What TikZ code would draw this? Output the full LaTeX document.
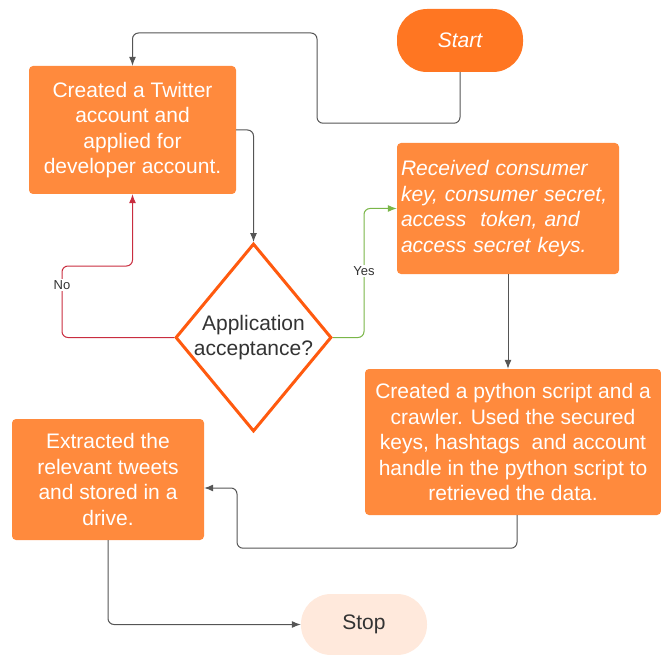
\documentclass[tikz,border=0pt]{standalone}
\usepackage{fontspec}
\setmainfont{Liberation Sans}
\usetikzlibrary{shapes.geometric,arrows.meta}

\definecolor{startorange}{HTML}{FF7622}
\definecolor{boxorange}{HTML}{FF8A3D}
\definecolor{diamondline}{HTML}{FF5A0F}
\definecolor{stoppeach}{HTML}{FFE9DC}
\definecolor{linegray}{HTML}{555555}
\definecolor{nored}{HTML}{C92D3F}
\definecolor{yesgreen}{HTML}{7AB648}
\definecolor{darktext}{HTML}{333333}

\begin{document}
\begin{tikzpicture}[x=1pt,y=-1pt,
  bigtext/.style={font=\fontsize{21}{25.5}\selectfont},
  terminal/.style={rectangle, rounded corners=30pt, inner sep=0pt, bigtext},
  box/.style={rectangle, rounded corners=4pt, fill=boxorange, text=white,
    inner sep=0pt, align=center, bigtext},
  decision/.style={diamond, aspect=0.83, draw=diamondline, line width=3pt,
    fill=white, text=darktext, inner sep=-6pt, align=center, bigtext,
    minimum width=156pt, minimum height=188pt},
  flow/.style={draw=linegray, line width=1pt, rounded corners=6pt,
    -{Latex[length=9pt,width=7pt]}},
  lbl/.style={fill=white, text=darktext, inner sep=1pt,
    font=\fontsize{13}{15}\selectfont}]
\useasboundingbox (0,0) rectangle (661,655);

\node[terminal, fill=startorange, text=white, minimum width=126pt,
  minimum height=63pt] (start) at (460,40.5) {\itshape Start};
\node[box, minimum width=207pt, minimum height=128pt] (twitter) at (132.5,130)
  {Created a Twitter\\account and\\applied for\\developer account.};
\node[decision] (decide) at (253.5,337.5) {Application\\acceptance?};
\node[box, align=left, text width=214pt, minimum width=222pt,
  minimum height=131pt] (keys) at (508,208.5)
  {\itshape Received consumer\\key, consumer secret,\\access\ \ token, and\\access secret keys.};
\node[box, minimum width=296pt, minimum height=146pt] (script) at (513,442)
  {Created a python script and a\\crawler. Used the secured\\keys, hashtags\ \ and account\\handle in the python script to\\retrieved the data.};
\node[box, minimum width=192pt, minimum height=121pt] (extract) at (108,479.5)
  {Extracted the\\relevant tweets\\and stored in a\\drive.};
\node[terminal, fill=stoppeach, text=darktext, minimum width=126pt,
  minimum height=61pt] (stop) at (364,624.5) {Stop};

\coordinate (backbend) at (237,488);

\draw[flow] (start.south) -- ++(0,51) -| (317,33) -| (twitter.north);
\draw[flow] (twitter.east) -| (decide.north);
\draw[flow, draw=nored] (decide.west) -| (62,266) -| (twitter.south);
\draw[flow, draw=yesgreen] (decide.east) -- ++(31,0) |- (keys.west);
\draw[flow] (keys.south) -- (keys.south |- script.north);
\draw[flow] ([xshift=4pt]script.south) -- ++(0,33) -| (backbend) -- (backbend -| extract.east);
\draw[flow] (extract.south) |- (stop.west);

\node[lbl] (nolabel) at (62,285) {No};
\node[lbl] (yeslabel) at (364,271) {Yes};
\end{tikzpicture}
\end{document}
